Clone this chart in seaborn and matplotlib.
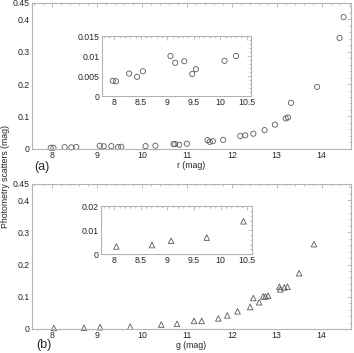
import numpy as np
import pandas as pd
import seaborn as sns
import matplotlib.pyplot as plt
from matplotlib.ticker import AutoMinorLocator

# r band : magnitude / photometric scatter
r_mag = [7.97, 8.03, 8.28, 8.43, 8.54, 9.06, 9.15, 9.32, 9.47, 9.54, 10.08, 10.30,
         10.70, 10.74, 10.83, 11.00, 11.46, 11.51, 11.58, 11.81, 12.19, 12.30, 12.48,
         12.73, 12.96, 13.20, 13.25, 13.32, 13.90, 14.40, 14.49]
r_scat = [0.0038, 0.0037, 0.0056, 0.0048, 0.0062, 0.0100, 0.0083, 0.0087, 0.0055, 0.0067,
          0.0088, 0.0100, 0.015, 0.015, 0.013, 0.016, 0.027, 0.022, 0.024, 0.028, 0.040,
          0.042, 0.047, 0.058, 0.075, 0.094, 0.097, 0.142, 0.191, 0.342, 0.406]

# g band
g_mag = [8.04, 8.71, 9.07, 9.74, 10.43, 10.78, 11.16, 11.33, 11.70, 11.90, 12.13, 12.41,
         12.48, 12.61, 12.70, 12.75, 12.81, 13.06, 13.08, 13.17, 13.24, 13.50, 13.83]
g_scat = [0.0032, 0.0038, 0.0056, 0.0069, 0.0137, 0.016, 0.025, 0.025, 0.033, 0.042,
          0.055, 0.068, 0.096, 0.083, 0.101, 0.101, 0.103, 0.131, 0.123, 0.129, 0.131,
          0.173, 0.263]

main_yticks = [0, 0.1, 0.2, 0.3, 0.4, 0.45]
main_ylabels = ["0", "0.1", "0.2", "0.3", "0.4", "0.45"]
inset_xticks = [8, 8.5, 9, 9.5, 10, 10.5]
inset_xlabels = ["8", "8.5", "9", "9.5", "10", "10.5"]

df_r = pd.DataFrame({"mag": r_mag, "scat": r_scat})
df_g = pd.DataFrame({"mag": g_mag, "scat": g_scat})

sns.set_style("white")
plt.rcParams["font.family"] = ["Liberation Sans", "DejaVu Sans"]

fig = plt.figure(figsize=(3.54, 3.53), dpi=100)
ax_r = fig.add_axes([0.090, 0.578, 0.901, 0.414])
ax_g = fig.add_axes([0.090, 0.068, 0.901, 0.411])
in_r = fig.add_axes([0.287, 0.728, 0.422, 0.170])
in_g = fig.add_axes([0.285, 0.280, 0.427, 0.136])

edge = "0.35"
frame = "0.7"


def style(ax, fs=6.3):
    for s in ax.spines.values():
        s.set_color(frame)
        s.set_linewidth(0.8)
    ax.tick_params(which="both", direction="in", top=True, right=True,
                   color=frame, labelsize=fs, pad=1.5)
    ax.tick_params(which="major", length=3, width=0.6)
    ax.tick_params(which="minor", length=1.5, width=0.6)
    ax.xaxis.set_minor_locator(AutoMinorLocator(5))
    ax.yaxis.set_minor_locator(AutoMinorLocator(5))
    ax.set_xlabel("")
    ax.set_ylabel("")


# top panel (r)
sns.scatterplot(data=df_r, x="mag", y="scat", ax=ax_r, marker="o", s=14,
                facecolor="none", edgecolor=edge, linewidth=0.6, clip_on=False)
ax_r.set_xlim(7.55, 14.65)
ax_r.set_ylim(0, 0.45)
ax_r.set_yticks(main_yticks)
ax_r.set_yticklabels(main_ylabels)
style(ax_r)
ax_r.set_xlabel("r (mag)", fontsize=6.3, labelpad=1)

ins_r = df_r[df_r["mag"] < 10.5]
sns.scatterplot(data=ins_r, x="mag", y="scat", ax=in_r, marker="o", s=14,
                facecolor="none", edgecolor=edge, linewidth=0.6)
in_r.set_xlim(7.76, 10.58)
in_r.set_ylim(0, 0.015)
in_r.set_xticks(inset_xticks)
in_r.set_xticklabels(inset_xlabels)
in_r.set_yticks([0, 0.005, 0.01, 0.015])
in_r.set_yticklabels(["0", "0.005", "0.01", "0.015"])
style(in_r)

# bottom panel (g)
sns.scatterplot(data=df_g, x="mag", y="scat", ax=ax_g, marker="^", s=16,
                facecolor="none", edgecolor=edge, linewidth=0.6, clip_on=False)
ax_g.set_xlim(7.55, 14.65)
ax_g.set_ylim(0, 0.45)
ax_g.set_yticks(main_yticks)
ax_g.set_yticklabels(main_ylabels)
style(ax_g)
ax_g.set_xlabel("g (mag)", fontsize=6.3, labelpad=1)

ins_g = df_g[df_g["mag"] < 10.5]
sns.scatterplot(data=ins_g, x="mag", y="scat", ax=in_g, marker="^", s=16,
                facecolor="none", edgecolor=edge, linewidth=0.6)
in_g.set_xlim(7.75, 10.59)
in_g.set_ylim(0, 0.02)
in_g.set_xticks(inset_xticks)
in_g.set_xticklabels(inset_xlabels)
in_g.set_yticks([0, 0.01, 0.02])
in_g.set_yticklabels(["0", "0.01", "0.02"])
style(in_g)

fig.text(0.098, 0.527, "(a)", fontsize=9, va="center", ha="left")
fig.text(0.103, 0.022, "(b)", fontsize=9, va="center", ha="left")
fig.text(0.016, 0.5, "Photometry scatters (mag)", rotation=90, fontsize=6.3,
         va="center", ha="center")

fig.savefig("out.png", dpi=100)
